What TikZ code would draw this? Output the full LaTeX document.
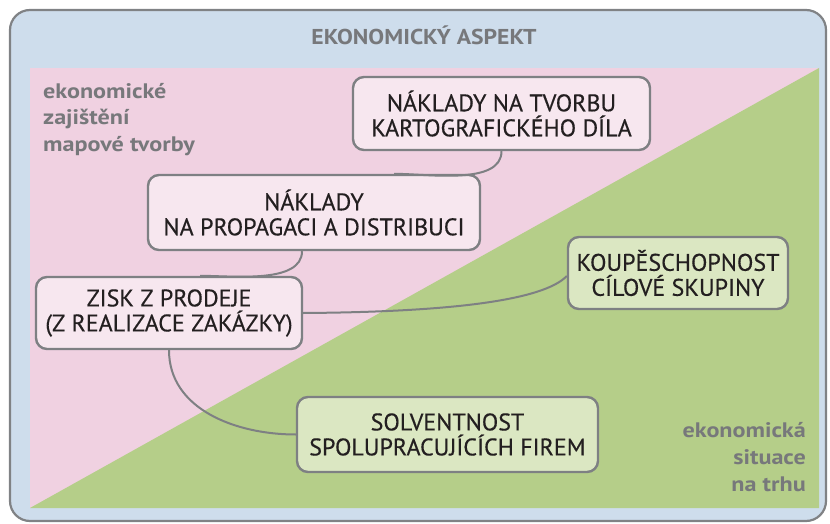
\documentclass[tikz,border=0pt]{standalone}
\usepackage{fontspec}
\setmainfont{PT Sans}
\newfontfamily\boxfont[FakeBold=0.4]{PT Sans}
\newfontfamily\labelfont[FakeStretch=1.15]{PT Sans}
\newfontfamily\titlefont[FakeStretch=1.1]{PT Sans}
\definecolor{outerblue}{HTML}{CEDDEC}
\definecolor{framegray}{HTML}{808285}
\definecolor{pinkbg}{HTML}{F0D1E1}
\definecolor{greenbg}{HTML}{B5CE89}
\definecolor{pinkbox}{HTML}{F7E7EF}
\definecolor{greenbox}{HTML}{DBE7C2}
\definecolor{boxline}{HTML}{7E8083}
\definecolor{textdark}{HTML}{231F20}
\definecolor{labelgray}{HTML}{77787B}
\begin{document}
\begin{tikzpicture}[x=1pt,y=-1pt,
  box/.style={draw=boxline, line width=2.4pt, rounded corners=11pt,
    align=center, inner sep=0pt, text=textdark,
    font=\boxfont\fontsize{24}{25}\selectfont},
  pinknode/.style={box, fill=pinkbox},
  greennode/.style={box, fill=greenbox},
  link/.style={draw=boxline, line width=2pt},
  sidelabel/.style={inner sep=0pt, text=labelgray,
    font=\labelfont\bfseries\fontsize{21}{27}\selectfont}]
  \useasboundingbox (0,0) rectangle (830,524);

  % frame and the two halves of the panel
  \draw[fill=outerblue, draw=framegray, line width=2.2pt, rounded corners=20pt]
    (10,10) rectangle (826,521);
  \fill[pinkbg] (30,68) rectangle (819,508);
  \fill[greenbg] (30,508) -- (819,68) -- (819,508) -- cycle;

  \node[text=labelgray, font=\titlefont\bfseries\fontsize{21.5}{25}\selectfont, inner sep=0pt]
    (title) at (424,35.5) {EKONOMICKÝ ASPEKT};

  % the base anchor of a multi-line node sits on its last line
  \node[sidelabel, align=left, anchor=base west] (leftlab) at (43,152)
    {ekonomické\\zajištění\\mapové tvorby};
  \node[sidelabel, align=right, anchor=base east] (rightlab) at (806,491)
    {ekonomická\\situace\\na trhu};

  % boxes
  \node[pinknode, minimum width=297pt, minimum height=73pt] (costmap) at (501.5,113.5)
    {NÁKLADY NA TVORBU\\KARTOGRAFICKÉHO DÍLA};
  \node[pinknode, minimum width=332pt, minimum height=75pt] (costprom) at (314,212.5)
    {NÁKLADY\\NA PROPAGACI A DISTRIBUCI};
  \node[pinknode, minimum width=266pt, minimum height=72pt] (profit) at (169,313)
    {ZISK Z PRODEJE\\(Z REALIZACE ZAKÁZKY)};
  \node[greennode, minimum width=220pt, minimum height=72pt] (buying) at (678,273)
    {KOUPĚSCHOPNOST\\CÍLOVÉ SKUPINY};
  \node[greennode, minimum width=301pt, minimum height=75pt] (solvency) at (447.5,434.5)
    {SOLVENTNOST\\SPOLUPRACUJÍCÍCH FIREM};

  % connectors
  \coordinate (c1) at ([xshift=80pt]costprom.north);
  \coordinate (c2s) at ([xshift=-12pt]costprom.south);
  \coordinate (c2e) at ([xshift=31pt]profit.north);
  \coordinate (c3e) at ([yshift=-3pt]buying.west);
  \draw[link] (costmap.south) to[out=-90, in=0, looseness=0.8] (c1);
  \draw[link] (c2s) to[out=-90, in=0, looseness=0.8] (c2e);
  \draw[link] (profit.east) .. controls +(150,-1) and +(-23,24) .. (c3e);
  \draw[link] (profit.south) to[out=-90, in=180] (solvency.west);
\end{tikzpicture}
\end{document}
